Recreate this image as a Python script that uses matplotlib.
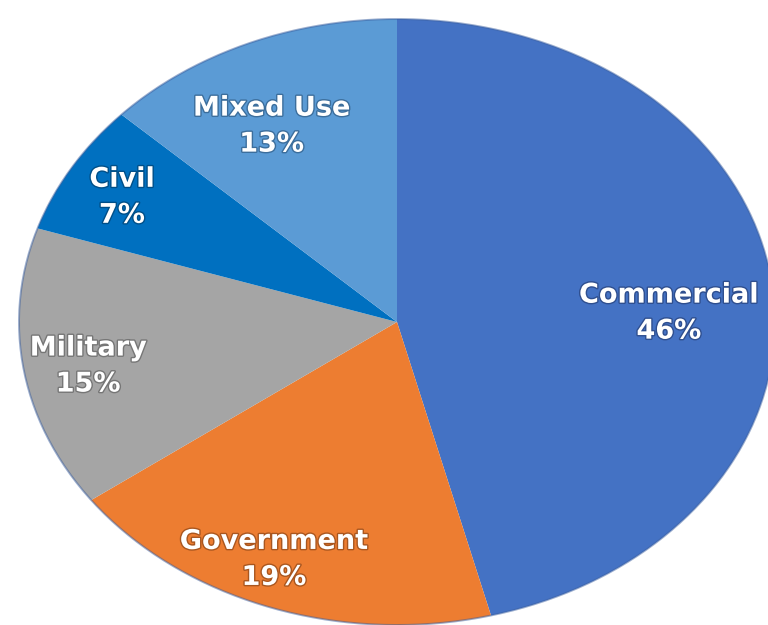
import numpy as np
import matplotlib
matplotlib.use("Agg")
import matplotlib.pyplot as plt
import matplotlib.patheffects as pe

# Share of projects by sector (percent)
categories = ["Commercial", "Government", "Military", "Civil", "Mixed Use"]
shares = [46, 19, 15, 7, 13]

colors = ["#4472C4", "#ED7D31", "#A5A5A5", "#0070C0", "#5B9BD5"]
halo = ["#2F4F8F", "#A9561F", "#767676", "#004F88", "#3C6E9C"]

# label placement: radial distance and angular nudge (degrees) per wedge
label_r = [0.72, 0.85, 0.83, 0.835, 0.725]
label_nudge = [-5.0, -2.7, 1.2, 1.2, 3.8]

fig = plt.figure(figsize=(7.68, 6.25), dpi=100)
ax = fig.add_axes([0, 0, 1, 1])

wedges, _ = ax.pie(
    shares,
    colors=colors,
    startangle=90,
    counterclock=False,
    radius=1.0,
    wedgeprops=dict(linewidth=0, antialiased=True),
)

# outer rim
theta = np.linspace(0, 2 * np.pi, 400)
ax.plot(np.cos(theta), np.sin(theta), color="#3A5E9E", lw=1.4, alpha=0.5)

for w, cat, val, r, dn, hc in zip(wedges, categories, shares, label_r, label_nudge, halo):
    mid = np.deg2rad((w.theta1 + w.theta2) / 2 + dn)
    ax.text(
        r * np.cos(mid), r * np.sin(mid), f"{cat}\n{val}%",
        ha="center", va="center", color="white", fontsize=19.5,
        fontweight="bold", family="DejaVu Sans", linespacing=1.5,
        path_effects=[pe.withStroke(linewidth=2.0, foreground=hc)],
    )

# stretched view: the pie fills the frame as an ellipse
cx, cy, rx, ry = 397, 322, 378, 303
ax.set_aspect("auto")
ax.set_xlim(-cx / rx, (768 - cx) / rx)
ax.set_ylim((cy - 625) / ry, cy / ry)
ax.axis("off")

fig.savefig("out.png", dpi=100, facecolor="white")
